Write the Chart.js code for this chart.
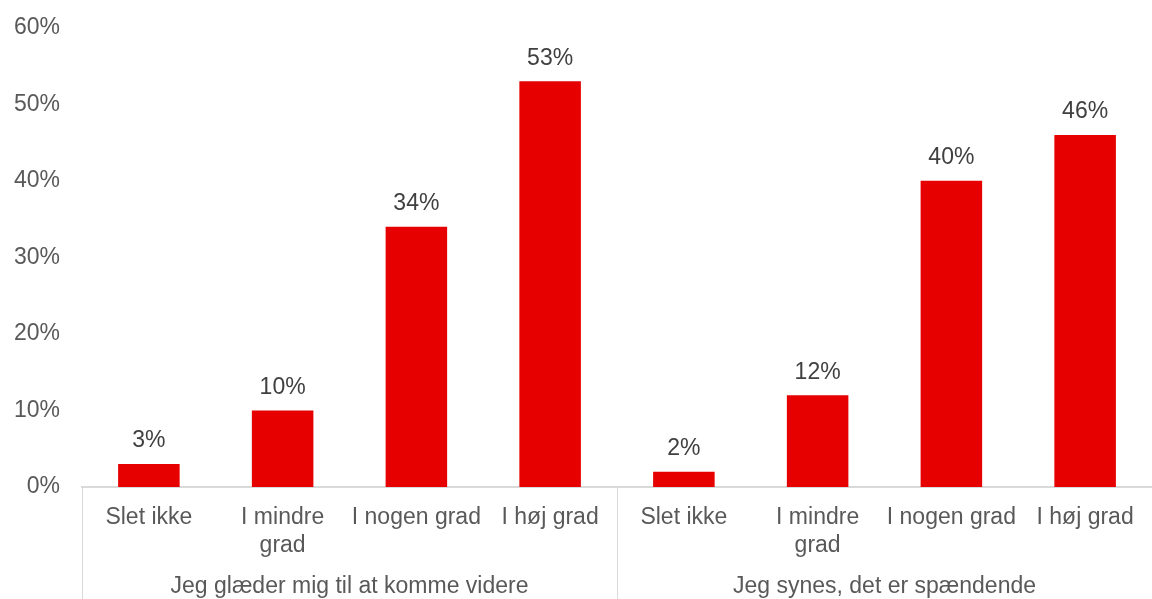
<!DOCTYPE html>
<html>
<head>
<meta charset="utf-8">
<script src="https://cdn.jsdelivr.net/npm/chart.js@4/dist/chart.umd.min.js"></script>
<style>
  html, body { margin: 0; padding: 0; background: #fff; }
  #wrap { width: 1152px; height: 599px; }
</style>
</head>
<body>
<div id="wrap"><canvas id="chart"></canvas></div>
<script>
// Categories (two-level axis)
const categories = ["Slet ikke", ["I mindre", "grad"], "I nogen grad", "I høj grad",
                    "Slet ikke", ["I mindre", "grad"], "I nogen grad", "I høj grad"];
const groups = ["Jeg glæder mig til at komme videre", "Jeg synes, det er spændende"];
const groupSize = 4;
// Values in percent
const values = [3, 10, 34, 53, 2, 12, 40, 46];
const yTicks = [0, 10, 20, 30, 40, 50, 60];

const textColor = "#595959";
const lineColor = "#d9d9d9";
const fontFamily = "'Liberation Sans', Arial, sans-serif";
const fontSize = 23;

// Value labels above bars
const valueLabels = {
    id: "valueLabels",
    afterDatasetsDraw(chart) {
        const ctx = chart.ctx;
        const meta = chart.getDatasetMeta(0);
        ctx.save();
        ctx.font = fontSize + "px " + fontFamily;
        ctx.fillStyle = "#404040";
        ctx.textAlign = "center";
        ctx.textBaseline = "middle";
        meta.data.forEach(function (bar, i) {
            ctx.fillText(values[i] + "%", bar.x, bar.y - 23);
        });
        ctx.restore();
    }
};

// Group labels and separators under the category axis
const groupAxis = {
    id: "groupAxis",
    afterDraw(chart) {
        const ctx = chart.ctx;
        const x = chart.scales.x;
        const area = chart.chartArea;
        const half = (x.getPixelForValue(1) - x.getPixelForValue(0)) / 2;
        ctx.save();
        ctx.strokeStyle = lineColor;
        ctx.lineWidth = 1;
        for (let g = 0; g <= groups.length; g++) {
            let px;
            if (g < groups.length) px = x.getPixelForValue(g * groupSize) - half;
            else px = x.getPixelForValue(g * groupSize - 1) + half;
            px = Math.round(px) + 0.5;
            ctx.beginPath();
            ctx.moveTo(px, area.bottom);
            ctx.lineTo(px, chart.height);
            ctx.stroke();
        }
        ctx.font = fontSize + "px " + fontFamily;
        ctx.fillStyle = textColor;
        ctx.textAlign = "center";
        ctx.textBaseline = "middle";
        groups.forEach(function (name, g) {
            const left = x.getPixelForValue(g * groupSize) - half;
            const right = x.getPixelForValue(g * groupSize + groupSize - 1) + half;
            ctx.fillText(name, (left + right) / 2, 587);
        });
        ctx.restore();
    }
};

new Chart(document.getElementById("chart"), {
    type: "bar",
    data: {
        labels: categories,
        datasets: [{
            data: values,
            backgroundColor: "#e60000",
            categoryPercentage: 1,
            barPercentage: 0.46
        }]
    },
    options: {
        responsive: true,
        maintainAspectRatio: false,
        animation: false,
        layout: { padding: { top: 23, right: 0, bottom: 0, left: 0 } },
        plugins: {
            legend: { display: false },
            tooltip: { enabled: false }
        },
        scales: {
            x: {
                grid: { display: false },
                border: { display: true, color: lineColor, width: 2 },
                ticks: {
                    color: textColor,
                    font: { family: fontFamily, size: fontSize, lineHeight: 1.25 },
                    maxRotation: 0,
                    autoSkip: false,
                    padding: 8
                },
                afterFit: function (s) { s.height = 112; }
            },
            y: {
                min: 0,
                max: 60,
                grid: { display: false },
                border: { display: false },
                afterBuildTicks: function (s) { s.ticks = yTicks.map(v => ({ value: v })); },
                ticks: {
                    color: textColor,
                    font: { family: fontFamily, size: fontSize },
                    padding: 14,
                    callback: v => v + "%"
                },
                afterFit: function (s) { s.width = 82; }
            }
        }
    },
    plugins: [valueLabels, groupAxis]
});
</script>
</body>
</html>
